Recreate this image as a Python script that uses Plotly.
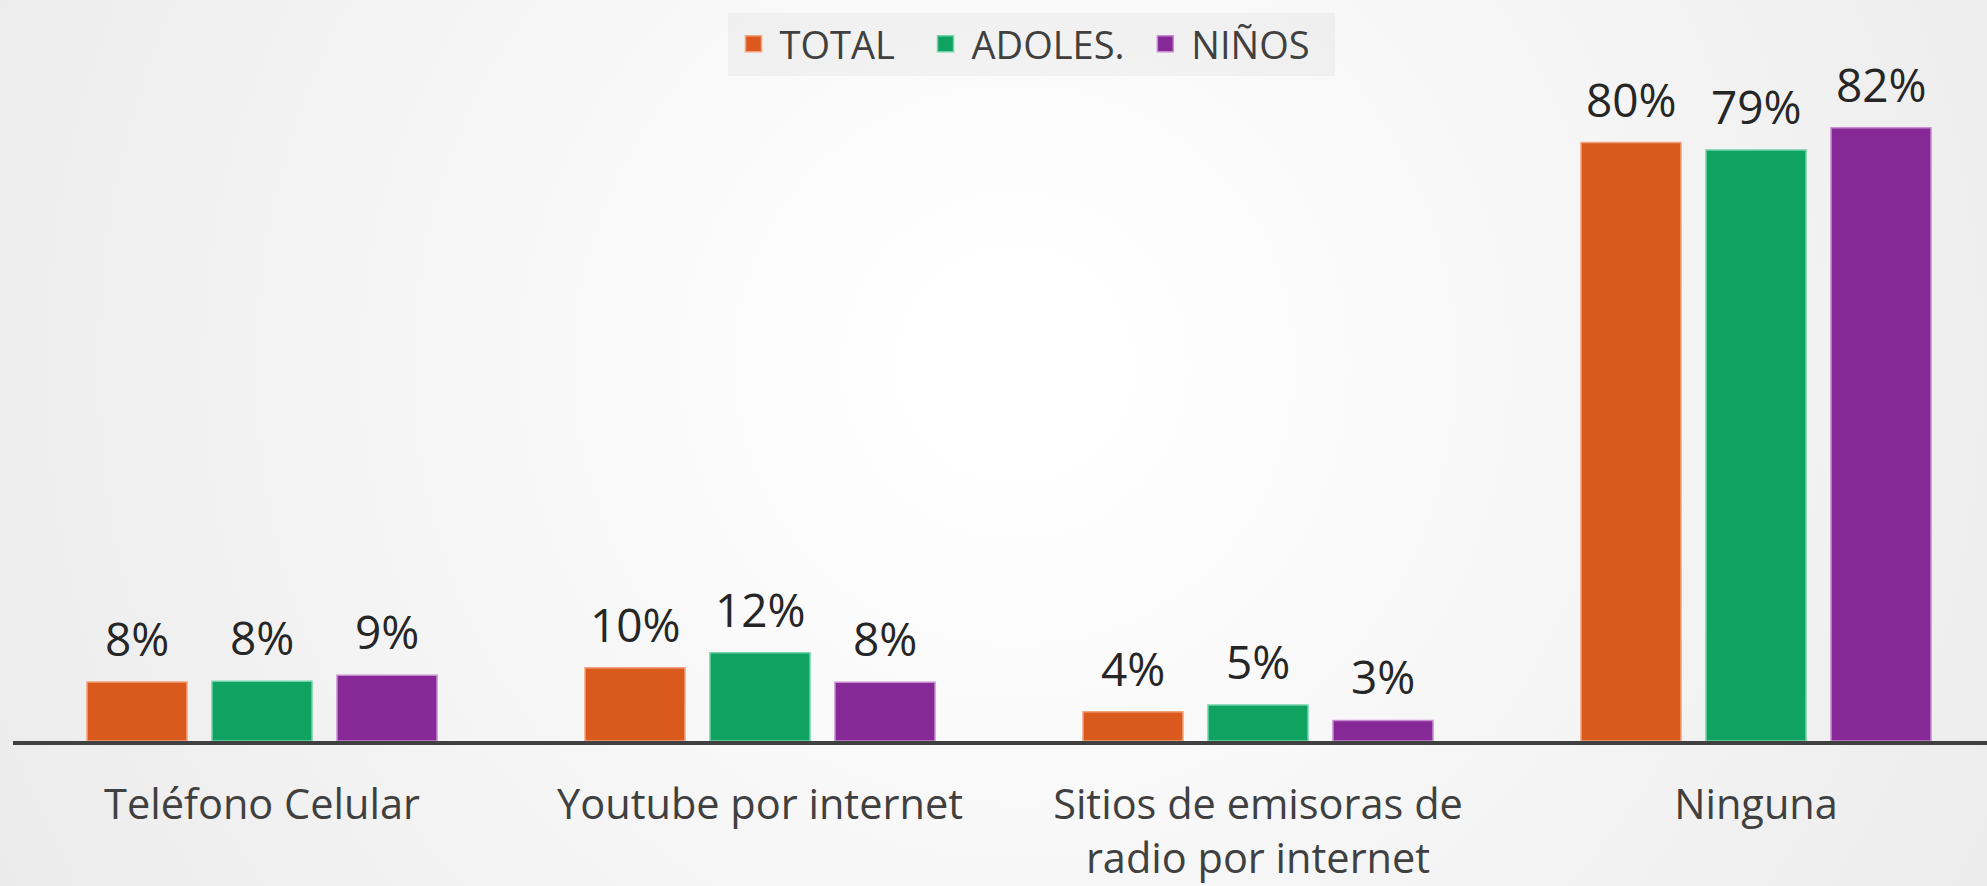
import urllib.parse
import plotly.graph_objects as go

categories = ["Teléfono Celular", "Youtube por internet",
              "Sitios de emisoras de<br>radio por internet", "Ninguna"]
total = [7.9, 9.8, 3.9, 80.0]
adoles = [8.0, 11.8, 4.8, 79.0]
ninos = [8.8, 7.85, 2.75, 82.0]
series_names = ["TOTAL", "ADOLES.", "NIÑOS"]

W, H = 1987, 886
L, R, T, B = 13, 0, 80, 145
px_per_pct = 7.48
plot_h = H - T - B
plot_w = W - L - R
ymax = plot_h / px_per_pct
cat_px = 498.0
xmax = -0.5 + plot_w / cat_px
BARGAP = 0.247
slot = (1 - BARGAP) / 3

colors = ["#DA5A1E", "#0FA260", "#862896"]
borders = ["#F3A27E", "#72D3A8", "#C78BD0"]
NBSP = "\u00a0"
legend_pad = [2, 1, 2]

fig = go.Figure()
annotations = []
for k, (name, vals, c, bc) in enumerate(zip(series_names, [total, adoles, ninos], colors, borders)):
    fig.add_trace(go.Bar(
        x=categories, y=vals, name=name, legendgroup=name, showlegend=False,
        marker=dict(color=c, line=dict(color=bc, width=1.5)),
        hoverinfo="x+y+name",
    ))
    # legend-only entry with a larger square swatch
    fig.add_trace(go.Scatter(
        x=[None], y=[None], name=name + NBSP * legend_pad[k], legendgroup=name, mode="markers",
        marker=dict(symbol="square", size=22, color=c, line=dict(color=bc, width=1.5)),
        hoverinfo="skip",
    ))
    for i, v in enumerate(vals):
        annotations.append(dict(
            x=i + (k - 1) * slot, y=v, xref="x", yref="y",
            text=f"{v:.0f}%", showarrow=False, yanchor="bottom", xanchor="center",
            yshift=11, font=dict(family="Open Sans", size=46, color="#262626"),
        ))

svg = (
    f"<svg xmlns='http://www.w3.org/2000/svg' width='{W}' height='{H}'>"
    "<defs><radialGradient id='g' cx='1015' cy='365' r='1150' gradientUnits='userSpaceOnUse'>"
    "<stop offset='0' stop-color='#ffffff'/>"
    "<stop offset='0.08' stop-color='#ffffff'/>"
    "<stop offset='0.5' stop-color='#f6f6f6'/>"
    "<stop offset='1' stop-color='#ebebeb'/>"
    "</radialGradient></defs>"
    f"<rect width='{W}' height='{H}' fill='url(#g)'/></svg>"
)
src = "data:image/svg+xml;charset=utf-8," + urllib.parse.quote(svg)

fig.update_layout(
    width=W, height=H,
    margin=dict(l=L, r=R, t=T, b=B, pad=0),
    paper_bgcolor="#f0f0f0",
    plot_bgcolor="rgba(0,0,0,0)",
    barmode="group", bargap=BARGAP, bargroupgap=0.2,
    font=dict(family="Open Sans", color="#404040"),
    annotations=annotations,
    images=[dict(source=src, xref="paper", yref="paper",
                 x=-L / plot_w, y=1 + T / plot_h,
                 sizex=W / plot_w, sizey=H / plot_h,
                 sizing="stretch", layer="below", xanchor="left", yanchor="top")],
    legend=dict(orientation="h", x=(1031 - L) / plot_w, xanchor="center",
                y=(plot_h + T - 44) / plot_h, yanchor="middle",
                bgcolor="rgba(0,0,0,0.035)", itemsizing="trace", itemwidth=42,
                font=dict(family="Open Sans", size=38, color="#404040"),
                itemclick=False, itemdoubleclick=False),
    showlegend=True,
)
fig.update_xaxes(range=[-0.5, xmax], showline=True, linecolor="#404040", linewidth=4,
                 ticks="", showgrid=False, zeroline=False,
                 tickfont=dict(family="Open Sans", size=41.5, color="#404040"),
                 ticklabelstandoff=24)
fig.update_yaxes(range=[0, ymax], visible=False, showgrid=False, zeroline=False)

fig.write_html("out.html", config={"displayModeBar": False},
               post_script="document.body.style.margin='0';")
